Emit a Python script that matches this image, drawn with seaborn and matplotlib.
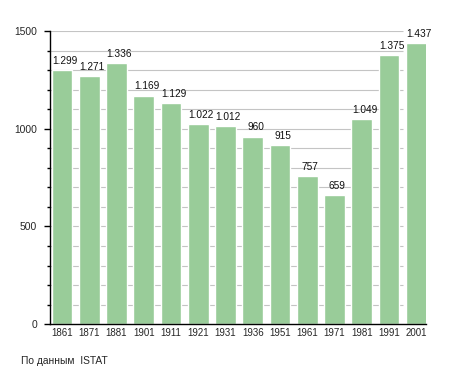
import matplotlib
matplotlib.use("Agg")
import matplotlib.pyplot as plt
import seaborn as sns
import pandas as pd
from matplotlib.ticker import MultipleLocator

years = ["1861", "1871", "1881", "1901", "1911", "1921", "1931", "1936", "1951", "1961", "1971", "1981", "1991", "2001"]
population = [1299, 1271, 1336, 1169, 1129, 1022, 1012, 960, 915, 757, 659, 1049, 1375, 1437]
labels = ["1.299", "1.271", "1.336", "1.169", "1.129", "1.022", "1.012", "960", "915", "757", "659", "1.049", "1.375", "1.437"]
grid_levels = list(range(100, 1600, 100))

df = pd.DataFrame({"year": years, "pop": population})

sns.set_theme(style="white")
plt.rcParams['font.family'] = ['Liberation Sans', 'DejaVu Sans']

fig = plt.figure(figsize=(4.55, 3.73), dpi=100)
ax = fig.add_axes([0.1099, 0.131, 0.826, 0.786])

ax.hlines(grid_levels, -0.44, 12.5, colors="#c4c4c4", linewidth=0.8, zorder=0)

sns.barplot(data=df, x="year", y="pop", color="#99CC99", saturation=1, width=0.76, ax=ax, zorder=2)

ax.set_ylim(0, 1500)
ax.set_xlim(-0.44, 13.35)
ax.yaxis.set_major_locator(MultipleLocator(500))
ax.yaxis.set_minor_locator(MultipleLocator(100))
for s in ["top", "right"]:
    ax.spines[s].set_visible(False)
for s in ["left", "bottom"]:
    ax.spines[s].set_color("black")
    ax.spines[s].set_linewidth(1.0)
ax.tick_params(axis="y", which="major", direction="out", length=4.3, width=1, color="black", labelsize=7.4, left=True, pad=5)
ax.tick_params(axis="y", which="minor", direction="out", length=2.2, width=1, color="black", left=True)
ax.tick_params(axis="x", length=0, labelsize=7.0, pad=3)
ax.set_xlabel("")
ax.set_ylabel("")

for i, (v, lab) in enumerate(zip(population, labels)):
    ax.annotate(lab, (i, v), xytext=(2, 3), textcoords="offset points",
                ha="center", va="bottom", fontsize=7.3, color="#111111")

fig.text(0.046, 0.023, "По данным  ISTAT", fontsize=7.4, ha="left", va="baseline")

fig.savefig("out.png", dpi=100)
